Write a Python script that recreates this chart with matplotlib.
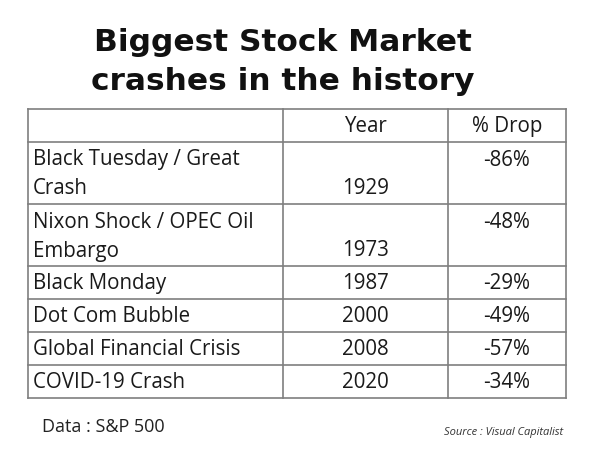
import matplotlib
matplotlib.use("Agg")
import matplotlib.pyplot as plt

## Table data
crashes = ["Black Tuesday / Great\nCrash", "Nixon Shock / OPEC Oil\nEmbargo", "Black Monday",
           "Dot Com Bubble", "Global Financial Crisis", "COVID-19 Crash"]
years = ["1929", "1973", "1987", "2000", "2008", "2020"]
drops = ["-86%", "-48%", "-29%", "-49%", "-57%", "-34%"]
headers = ["", "Year", "% Drop"]

title = "Biggest Stock Market\ncrashes in the history"
data_note = "Data : S&P 500"
source_note = "Source : Visual Capitalist"

## Layout (pixels)
col_x = [28, 283, 448, 566]
top = 109
header_h = 33
cell_font = "Open Sans"
fs = 14.8
line_col = "#7f7f7f"
txt_col = "#1a1a1a"

fig = plt.figure(figsize=(6, 4.5), dpi=100)
ax = fig.add_axes([0, 0, 1, 1])
ax.set_xlim(0, 600)
ax.set_ylim(450, 0)
ax.axis("off")

ax.text(283, 62, title, ha="center", va="center", fontsize=22.5, fontweight="bold",
        family="DejaVu Sans", linespacing=1.45, color="#111111")

# row boundaries
bounds = [top, top + header_h]
for name in crashes:
    n = name.count("\n") + 1
    bounds.append(bounds[-1] + 4 + 29 * n)

for y in bounds:
    ax.plot([col_x[0], col_x[-1]], [y, y], color=line_col, lw=1.2, solid_capstyle="projecting")
for x in col_x:
    ax.plot([x, x], [bounds[0], bounds[-1]], color=line_col, lw=1.2, solid_capstyle="projecting")

# header
hy = (bounds[0] + bounds[1]) / 2 + 1
for i, h in enumerate(headers):
    ax.text((col_x[i] + col_x[i + 1]) / 2, hy, h, ha="center", va="center",
            fontsize=fs, family=cell_font, color=txt_col)

for i, (name, yr, dp) in enumerate(zip(crashes, years, drops)):
    y0, y1 = bounds[i + 1], bounds[i + 2]
    lines = name.split("\n")
    if len(lines) == 1:
        yc = (y0 + y1) / 2 + 1
        ax.text(col_x[0] + 5, yc, name, ha="left", va="center", fontsize=fs, family=cell_font, color=txt_col)
        ax.text((col_x[1] + col_x[2]) / 2, yc, yr, ha="center", va="center", fontsize=fs, family=cell_font, color=txt_col)
        ax.text((col_x[2] + col_x[3]) / 2, yc, dp, ha="center", va="center", fontsize=fs, family=cell_font, color=txt_col)
    else:
        first = y0 + 18
        last = y1 - 15
        for k, ln in enumerate(lines):
            ax.text(col_x[0] + 5, first + k * (last - first), ln, ha="left", va="center",
                    fontsize=fs, family=cell_font, color=txt_col)
        ax.text((col_x[1] + col_x[2]) / 2, last, yr, ha="center", va="center", fontsize=fs, family=cell_font, color=txt_col)
        ax.text((col_x[2] + col_x[3]) / 2, first, dp, ha="center", va="center", fontsize=fs, family=cell_font, color=txt_col)

ax.text(42, 427, data_note, ha="left", va="center", fontsize=13, family=cell_font, color="#222222")
ax.text(563, 432, source_note, ha="right", va="center", fontsize=8, style="italic", family=cell_font, color="#333333")

fig.savefig("out.png", dpi=100)
